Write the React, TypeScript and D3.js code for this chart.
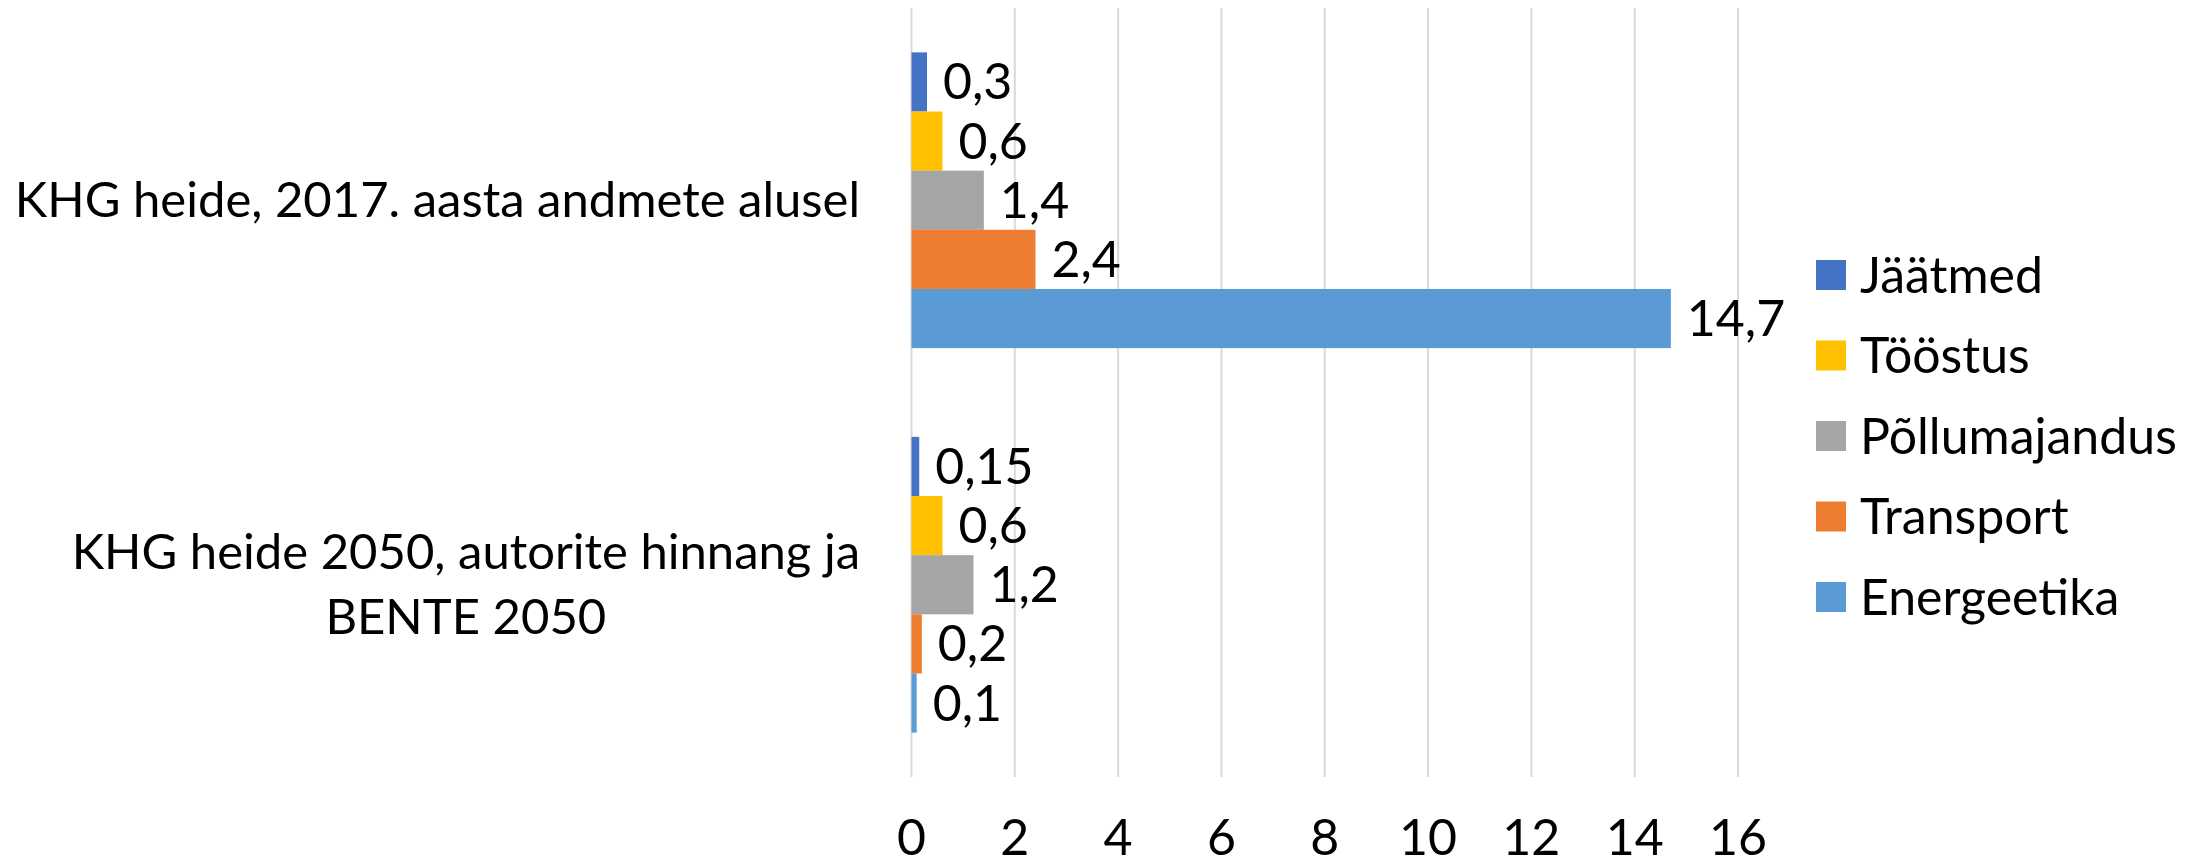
import React from 'react';
import * as d3 from 'd3';

const categories = ['KHG heide, 2017. aasta andmete alusel', 'KHG heide 2050, autorite hinnang ja BENTE 2050'];
const categoryLines = [['KHG heide, 2017. aasta andmete alusel'], ['KHG heide 2050, autorite hinnang ja', 'BENTE 2050']];
const seriesNames = ['Jäätmed', 'Tööstus', 'Põllumajandus', 'Transport', 'Energeetika'];
const seriesColors = ['#4472C4', '#FFC000', '#A5A5A5', '#ED7D31', '#5B9BD5'];
const jaatmed = [0.3, 0.15];
const toostus = [0.6, 0.6];
const pollumajandus = [1.4, 1.2];
const transport = [2.4, 0.2];
const energeetika = [14.7, 0.1];
const seriesValues = [jaatmed, toostus, pollumajandus, transport, energeetika];
const xTicks = [0, 2, 4, 6, 8, 10, 12, 14, 16];

const width = 2203;
const height = 866;
const FONT = 'Lato, Calibri, "Open Sans", sans-serif';
const FS = 50;
const CAT_FS = 49;

function measure(text: string) {
  const ctx = document.createElement('canvas').getContext('2d');
  if (!ctx) return text.length * CAT_FS * 0.45;
  ctx.font = `${CAT_FS}px Lato`;
  return ctx.measureText(text).width;
}

const fmt = (v: number) => String(v).replace('.', ',');

export default function App() {
  const x = d3.scaleLinear().domain([0, 16]).range([911.5, 1738]);
  const y0 = d3.scaleBand().domain(categories).range([8, 777]);
  const y1 = d3.scaleBand().domain(seriesNames).range([0, y0.bandwidth()]).paddingOuter(0.75);

  const labelRight = 860;
  const lineH = 65;

  return (
    <svg width={width} height={height} style={{ position: 'absolute', left: 0, top: 0, background: '#fff' }}
      fontFamily={FONT}>
      {/* gridlines */}
      {xTicks.map(t => (
        <line key={t} x1={x(t)} x2={x(t)} y1={8} y2={777} stroke="#D9D9D9" strokeWidth={2} />
      ))}

      {/* bars + labels */}
      {categories.map((c, ci) => (
        <g key={c} transform={`translate(0,${y0(c)})`}>
          {seriesNames.map((s, si) => {
            const v = seriesValues[si][ci];
            const by = y1(s) as number;
            return (
              <g key={s}>
                <rect x={x(0)} y={by} width={x(v) - x(0)} height={y1.bandwidth()} fill={seriesColors[si]} />
                <text x={x(v) + 16} y={by + y1.bandwidth() / 2} dy="0.35em" fontSize={FS} fill="#000">
                  {fmt(v)}
                </text>
              </g>
            );
          })}
        </g>
      ))}

      {/* category labels */}
      {categories.map((c, ci) => {
        const lines = categoryLines[ci];
        const blockW = Math.max(...lines.map(measure));
        const cx = labelRight - blockW / 2;
        const mid = (y0(c) as number) + y0.bandwidth() / 2;
        const startY = mid - ((lines.length - 1) * lineH) / 2;
        return (
          <text key={c} fontSize={CAT_FS} fill="#000" textAnchor="middle">
            {lines.map((l, li) => (
              <tspan key={li} x={cx} y={startY + li * lineH} dy="0.35em">{l}</tspan>
            ))}
          </text>
        );
      })}

      {/* x axis tick labels */}
      {xTicks.map(t => (
        <text key={t} x={x(t)} y={855} textAnchor="middle" fontSize={FS} fill="#000">{t}</text>
      ))}

      {/* legend */}
      {seriesNames.map((s, si) => {
        const ly = 275 + si * 80.5;
        return (
          <g key={s} transform={`translate(1816,${ly})`}>
            <rect x={0} y={-15} width={30} height={30} fill={seriesColors[si]} />
            <text x={44} y={0} dy="0.35em" fontSize={FS} fill="#000">{s}</text>
          </g>
        );
      })}
    </svg>
  );
}
